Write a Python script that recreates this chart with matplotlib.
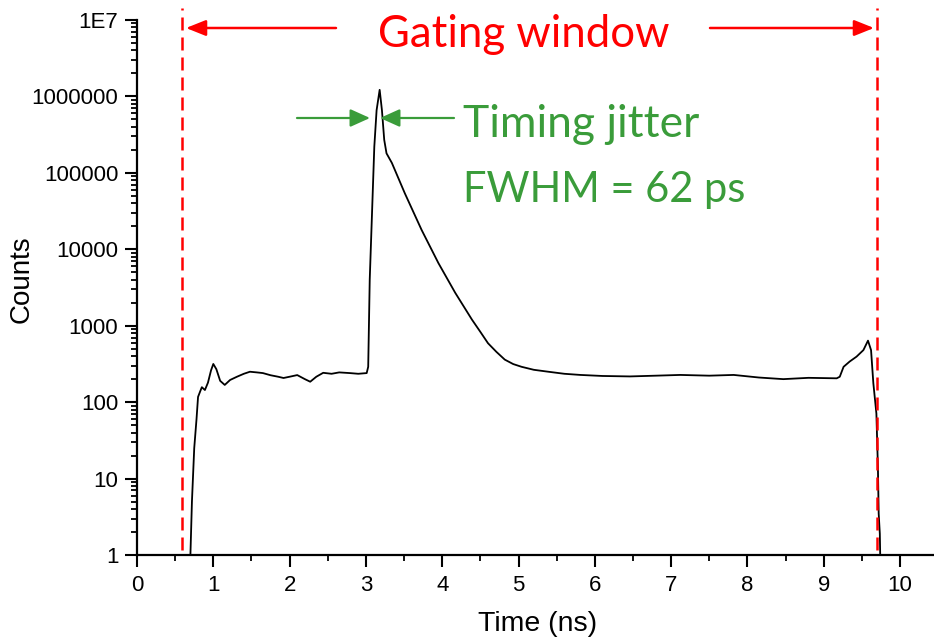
import matplotlib
matplotlib.use("Agg")
import matplotlib.pyplot as plt
from matplotlib.ticker import FixedLocator, MultipleLocator, LogLocator, NullFormatter

# ---- data ----
time_ns = [0.70, 0.72, 0.75, 0.78, 0.80, 0.83, 0.85, 0.89, 0.93, 0.97, 1.00, 1.04, 1.09, 1.15,
           1.22, 1.31, 1.40, 1.48, 1.57, 1.65, 1.75, 1.85, 1.92, 2.00, 2.10, 2.20, 2.27, 2.35,
           2.44, 2.55, 2.65, 2.79, 2.90, 3.01, 3.03, 3.05, 3.08, 3.11, 3.14, 3.18, 3.21, 3.24,
           3.27, 3.34, 3.51, 3.73, 3.95, 4.17, 4.39, 4.50, 4.60, 4.71, 4.82, 4.93, 5.04, 5.20,
           5.39, 5.60, 5.81, 6.10, 6.46, 6.80, 7.12, 7.50, 7.82, 8.15, 8.47, 8.80, 9.17, 9.21,
           9.26, 9.34, 9.43, 9.52, 9.58, 9.62, 9.65, 9.69, 9.71, 9.72, 9.735, 9.74]
counts = [1, 5, 25, 60, 117, 140, 157, 144, 180, 260, 316, 270, 190, 168,
          195, 215, 235, 250, 245, 240, 225, 215, 207, 215, 226, 200, 185, 215,
          242, 235, 245, 240, 235, 240, 290, 4000, 29700, 2.2e5, 6.6e5, 1.22e6, 6.6e5, 2.7e5,
          1.8e5, 1.35e5, 54000, 17900, 6600, 2700, 1200, 830, 590, 455, 360, 315, 290, 265,
          250, 235, 227, 220, 217, 222, 227, 222, 227, 210, 200, 208, 205, 215,
          290, 340, 394, 480, 638, 480, 177, 71, 14, 3.5, 1.9, 1]

gate_edges = [0.59, 9.70]
x_ticks = [0, 1, 2, 3, 4, 5, 6, 7, 8, 9, 10]
y_ticks = [1, 10, 100, 1000, 10000, 100000, 1000000, 10000000]
y_tick_labels = ["1", "10", "100", "1000", "10000", "100000", "1000000", "1E7"]

W, H = 934, 641
def fx(px):
    return px / W
def fy(py):
    return 1 - py / H

fig = plt.figure(figsize=(W / 100, H / 100), dpi=100)
ax = fig.add_axes([fx(137), 86 / H, (W - 137) / W, 535 / H])

ax.plot(time_ns, counts, color="black", lw=1.3)
ax.set_yscale("log")
ax.set_xlim(0, 10.445)
ax.set_ylim(1, 1e7)

for sp in ["top", "right"]:
    ax.spines[sp].set_visible(False)
for sp in ["left", "bottom"]:
    ax.spines[sp].set_linewidth(1.6)

ax.xaxis.set_major_locator(FixedLocator(x_ticks))
ax.xaxis.set_minor_locator(MultipleLocator(0.5))
ax.set_yticks(y_ticks)
ax.set_yticklabels(y_tick_labels)
ax.yaxis.set_minor_locator(LogLocator(base=10, subs=range(2, 10), numticks=20))
ax.yaxis.set_minor_formatter(NullFormatter())

tickfont = "Liberation Sans"
ax.tick_params(which="major", direction="out", length=8.5, width=1.5, labelsize=16, pad=5)
ax.tick_params(which="minor", direction="out", length=4.5, width=1.3)
ax.tick_params(axis="x", which="major", pad=6)
for lab in ax.get_xticklabels() + ax.get_yticklabels():
    lab.set_fontfamily(tickfont)

fig.text(fx(22), fy(279), "Counts", rotation=90, ha="center", va="center",
         fontsize=20, family=tickfont)
fig.text(fx(538), fy(624), "Time (ns)", ha="center", va="center",
         fontsize=20.5, family=tickfont)

# gating window lines
red = "#ff0000"
for xe in gate_edges:
    ax.axvline(xe, ymin=(555 - 550) / 535, ymax=(555 - 8) / 535, color=red, lw=1.8,
               linestyle=(0, (5.2, 2.8)), clip_on=False)

annfont = ["Lato", "DejaVu Sans"]
fig.text(fx(378), fy(47), "Gating window", color=red, fontsize=31.5, family=annfont,
         ha="left", va="baseline")
ax.annotate("", xy=(fx(186), fy(28)), xycoords="figure fraction",
            xytext=(fx(336), fy(28)), textcoords="figure fraction",
            arrowprops=dict(arrowstyle="-|>,head_length=0.6,head_width=0.24",
                            mutation_scale=20, color=red, lw=1.8, shrinkA=0, shrinkB=0))
ax.annotate("", xy=(fx(874), fy(28)), xycoords="figure fraction",
            xytext=(fx(710), fy(28)), textcoords="figure fraction",
            arrowprops=dict(arrowstyle="-|>,head_length=0.6,head_width=0.24",
                            mutation_scale=20, color=red, lw=1.8, shrinkA=0, shrinkB=0))

green = "#3a9c3a"
ax.annotate("", xy=(fx(370), fy(118)), xycoords="figure fraction",
            xytext=(fx(297), fy(118)), textcoords="figure fraction",
            arrowprops=dict(arrowstyle="-|>,head_length=0.6,head_width=0.27",
                            mutation_scale=20, color=green, lw=1.6, shrinkA=0, shrinkB=0))
ax.annotate("", xy=(fx(380), fy(118)), xycoords="figure fraction",
            xytext=(fx(454), fy(118)), textcoords="figure fraction",
            arrowprops=dict(arrowstyle="-|>,head_length=0.6,head_width=0.27",
                            mutation_scale=20, color=green, lw=1.6, shrinkA=0, shrinkB=0))
fig.text(fx(463), fy(137), "Timing jitter", color=green, fontsize=32, family=annfont,
         ha="left", va="baseline")
fig.text(fx(463), fy(202), "FWHM = 62 ps", color=green, fontsize=30, family=annfont,
         ha="left", va="baseline")

fig.savefig("out.png", dpi=100)
